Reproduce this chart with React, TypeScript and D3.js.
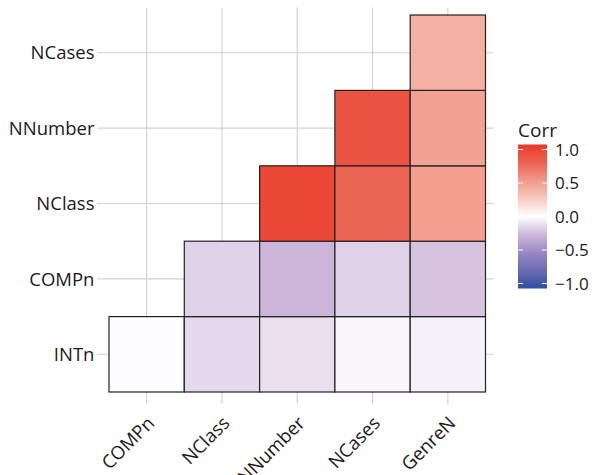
import React from "react";
import * as d3 from "d3";

const xLabels = ["COMPn", "NClass", "NNumber", "NCases", "GenreN"];
const yLabels = ["INTn", "COMPn", "NClass", "NNumber", "NCases"]; // bottom to top
// correlation rows (y) with values per x; null = not drawn
const rowINTn = [-0.01, -0.13, -0.11, -0.03, -0.05];
const rowCOMPn = [null, -0.16, -0.26, -0.16, -0.21];
const rowNClass = [null, null, 0.92, 0.74, 0.47];
const rowNNumber = [null, null, null, 0.85, 0.46];
const rowNCases = [null, null, null, null, 0.38];
const legendTicks = [1.0, 0.5, 0.0, -0.5, -1.0];

const rows = [rowINTn, rowCOMPn, rowNClass, rowNNumber, rowNCases];

const FONT = "'Open Sans', sans-serif";
const colorDomain = [-1, -0.5, -0.25, 0, 0.25, 0.5, 0.75, 1];
const colorRange = ["#2C4FA0", "#9A88C2", "#CDB8DA", "#FFFFFF", "#F7C9C0", "#F1998A", "#EC6352", "#E8372A"];

const colorScale = d3
  .scaleLinear<string>()
  .domain(colorDomain)
  .range(colorRange)
  .interpolate(d3.interpolateLab);

export default function App() {
  const W = 592;
  const H = 475;
  const x = d3.scaleBand<string>().domain(xLabels).range([109, 485.5]).padding(0);
  const y = d3.scaleBand<string>().domain([...yLabels].reverse()).range([15, 392]).padding(0);
  const bw = x.bandwidth();
  const bh = y.bandwidth();
  const panelL = 109 - bw * 0.1;
  const panelR = 485.5 + bw * 0.1;
  const panelT = 15 - bh * 0.1;
  const panelB = 392 + bh * 0.1;

  const cells: { xi: number; yi: number; v: number }[] = [];
  rows.forEach((r, yi) =>
    r.forEach((v, xi) => {
      if (v !== null) cells.push({ xi, yi, v: v as number });
    })
  );

  const legY = d3.scaleLinear().domain([1, -1]).range([149.5, 283.5]);
  const stops = d3.range(0, 41).map((i) => {
    const v = 1 - i / 20;
    return { off: i / 40, c: colorScale(v) };
  });

  return (
    <svg width={W} height={H} style={{ position: "absolute", left: 0, top: 0 }}>
      <rect width={W} height={H} fill="white" />
      {xLabels.map((l) => {
        const cx = (x(l) as number) + bw / 2;
        return (
          <line key={"gx" + l} x1={cx} x2={cx} y1={panelT} y2={panelB} stroke="#d2d2d2" strokeWidth={1.1} />
        );
      })}
      {yLabels.map((l) => {
        const cy = (y(l) as number) + bh / 2;
        return (
          <line key={"gy" + l} x1={panelL} x2={panelR} y1={cy} y2={cy} stroke="#d2d2d2" strokeWidth={1.1} />
        );
      })}
      {cells.map((c) => (
        <rect
          key={c.xi + "-" + c.yi}
          x={x(xLabels[c.xi]) as number}
          y={y(yLabels[c.yi]) as number}
          width={bw}
          height={bh}
          fill={colorScale(c.v)}
          stroke="#222"
          strokeWidth={1.2}
        />
      ))}
      {yLabels.map((l) => {
        const cy = (y(l) as number) + bh / 2;
        return (
          <g key={"yt" + l}>
            <line x1={panelL - 4} x2={panelL} y1={cy} y2={cy} stroke="#cccccc" strokeWidth={1.1} />
            <text x={panelL - 7} y={cy} dy="0.36em" textAnchor="end" fontFamily={FONT} fontSize={18.5} fill="#1a1a1a">
              {l}
            </text>
          </g>
        );
      })}
      {xLabels.map((l) => {
        const cx = (x(l) as number) + bw / 2;
        return (
          <g key={"xt" + l}>
            <line x1={cx} x2={cx} y1={panelB} y2={panelB + 4} stroke="#cccccc" strokeWidth={1.1} />
            <text
              transform={`translate(${cx - 1},${panelB + 15}) rotate(-45)`}
              textAnchor="end"
              dy="0.75em"
              fontFamily={FONT}
              fontSize={18.5}
              fill="#1a1a1a"
            >
              {l}
            </text>
          </g>
        );
      })}
      <defs>
        <linearGradient id="lg" x1="0" y1="0" x2="0" y2="1">
          {stops.map((s, i) => (
            <stop key={i} offset={s.off} stopColor={s.c} />
          ))}
        </linearGradient>
      </defs>
      <text x={518} y={137} fontFamily={FONT} fontSize={19} fill="#1a1a1a">
        Corr
      </text>
      <rect x={518} y={legY(1) - 5} width={29} height={legY(-1) - legY(1) + 10} fill="url(#lg)" />
      {legendTicks.map((t) => (
        <g key={"lt" + t}>
          <line x1={518} x2={523} y1={legY(t)} y2={legY(t)} stroke="white" strokeWidth={1} />
          <line x1={542} x2={547} y1={legY(t)} y2={legY(t)} stroke="white" strokeWidth={1} />
          <text x={555} y={legY(t)} dy="0.38em" fontFamily={FONT} fontSize={17} fill="#1a1a1a">
            {t < 0 ? "\u2212" + Math.abs(t).toFixed(1) : t.toFixed(1)}
          </text>
        </g>
      ))}
    </svg>
  );
}
